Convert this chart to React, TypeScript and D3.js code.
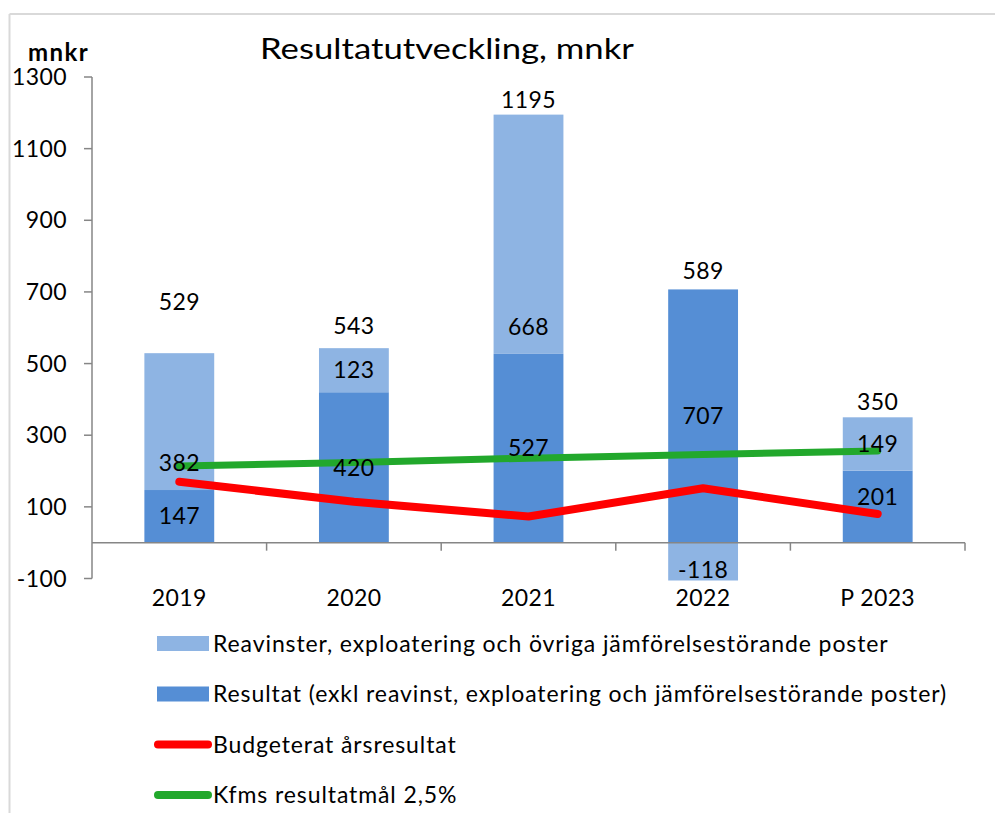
import React from "react";
import * as d3 from "d3";

const categories = ["2019", "2020", "2021", "2022", "P 2023"];
const resultat = [147, 420, 527, 707, 201];
const reavinster = [382, 123, 668, -118, 149];
const totals = [529, 543, 1195, 589, 350];
const budget = [170, 114, 73, 152, 80];
const resultatmal = [214, 224, 236, 246, 256];
const yTicks = [-100, 100, 300, 500, 700, 900, 1100, 1300];

const legendItems = [
  { label: "Reavinster, exploatering och övriga jämförelsestörande poster", kind: "rect", color: "#8eb4e3" },
  { label: "Resultat (exkl reavinst, exploatering och jämförelsestörande poster)", kind: "rect", color: "#558ed5" },
  { label: "Budgeterat årsresultat", kind: "line", color: "#ff0000" },
  { label: "Kfms resultatmål 2,5%", kind: "line", color: "#22a82c" },
];

// label nudges (pixels) — styling only
const totalDy = [-51, -22, -15, -18, -15];
const lightDy = [41, 0, 93, 6, 0];
const darkDy = [0, 0, 0, 0, -10];

const W = 995;
const H = 813;
const FONT = "Lato, 'Open Sans', sans-serif";

export default function App() {
  const left = 92;
  const right = 965;
  const band = d3.scaleBand<string>().domain(categories).range([left, right]);
  const y = d3.scaleLinear().domain([-100, 1300]).range([578.5, 77]);
  const y0 = y(0);
  const cx = (c: string) => (band(c) as number) + band.bandwidth() / 2;
  const bw = band.bandwidth() * 0.4;

  const line = d3
    .line<number>()
    .x((_, i) => cx(categories[i]))
    .y((d) => y(d));

  const clipBottom = y(-100) + 2;
  const numSize = 23;
  const numLS = 0.4;

  return (
    <div style={{ position: "absolute", left: 0, top: 0 }}>
      <svg width={W} height={H} style={{ display: "block", background: "#fff" }} fontFamily={FONT}>
        <defs>
          <clipPath id="plotclip">
            <rect x={left} y={60} width={right - left} height={clipBottom - 60} />
          </clipPath>
        </defs>
        <rect x={0} y={0} width={W} height={H} fill="#fff" />
        {/* outer border */}
        <line x1={9.5} y1={14} x2={W} y2={14} stroke="#d9d9d9" strokeWidth={2} />
        <line x1={9.5} y1={14} x2={9.5} y2={H} stroke="#d9d9d9" strokeWidth={2} />

        {/* title */}
        <text x={447} y={58.5} textAnchor="middle" fontSize={29} fill="#000" textLength={374} lengthAdjust="spacingAndGlyphs">
          Resultatutveckling, mnkr
        </text>
        <text x={28} y={61} fontSize={24} fontWeight="bold" fill="#000" letterSpacing={1.4}>
          mnkr
        </text>

        {/* bars */}
        <g clipPath="url(#plotclip)">
          {categories.map((c, i) => {
            const bx = cx(c) - bw / 2;
            const d = resultat[i];
            const l = reavinster[i];
            const darkTop = y(d);
            let lightY: number, lightH: number;
            if (l >= 0) {
              lightY = y(d + l);
              lightH = y(d) - y(d + l);
            } else {
              lightY = y0;
              lightH = y(l) - y0;
            }
            return (
              <g key={c}>
                <rect x={bx} y={darkTop} width={bw} height={y0 - darkTop} fill="#558ed5" />
                <rect x={bx} y={lightY} width={bw} height={lightH} fill="#8eb4e3" />
              </g>
            );
          })}
        </g>

        {/* y axis */}
        <line x1={left} y1={y(1300)} x2={left} y2={y(-100)} stroke="#868686" strokeWidth={1.5} />
        {yTicks.map((t) => (
          <g key={t}>
            <line x1={left - 8} x2={left} y1={y(t)} y2={y(t)} stroke="#868686" strokeWidth={1.5} />
            <text x={67} y={y(t)} dy="0.35em" textAnchor="end" fontSize={numSize} letterSpacing={numLS} fill="#000">
              {t}
            </text>
          </g>
        ))}
        {/* x axis */}
        <line x1={left} y1={y0} x2={right} y2={y0} stroke="#868686" strokeWidth={1.5} />
        {categories.map((c) => (
          <line
            key={"t" + c}
            x1={(band(c) as number) + band.bandwidth()}
            x2={(band(c) as number) + band.bandwidth()}
            y1={y0}
            y2={y0 + 8}
            stroke="#868686"
            strokeWidth={1.5}
          />
        ))}
        {categories.map((c) => (
          <text key={"x" + c} x={cx(c)} y={606} textAnchor="middle" fontSize={numSize} letterSpacing={numLS} fill="#000">
            {c}
          </text>
        ))}

        {/* lines */}
        <path d={line(budget) || ""} fill="none" stroke="#ff0000" strokeWidth={8} strokeLinecap="round" strokeLinejoin="round" />
        <path d={line(resultatmal) || ""} fill="none" stroke="#22a82c" strokeWidth={7} strokeLinecap="round" strokeLinejoin="round" />

        {/* labels */}
        {categories.map((c, i) => {
          const d = resultat[i];
          const l = reavinster[i];
          const darkC = (y0 + y(d)) / 2 + darkDy[i];
          const lightC = l >= 0 ? (y(d) + y(d + l)) / 2 + lightDy[i] : (y0 + y(l)) / 2 + lightDy[i];
          const top = l >= 0 ? y(d + l) : y(d);
          return (
            <g key={"l" + c} fontSize={numSize} letterSpacing={numLS} textAnchor="middle" fill="#000">
              <text x={cx(c)} y={darkC} dy="0.35em">{d}</text>
              <text x={cx(c)} y={lightC} dy="0.35em">{l}</text>
              <text x={cx(c)} y={top + totalDy[i]} dy="0.35em">{totals[i]}</text>
            </g>
          );
        })}

        {/* legend */}
        {legendItems.map((it, i) => {
          const ly = 643.5 + i * 50.5;
          return (
            <g key={it.label}>
              {it.kind === "rect" ? (
                <rect x={157} y={ly - 7.5} width={52} height={15} fill={it.color} />
              ) : (
                <line x1={158} x2={208} y1={ly} y2={ly} stroke={it.color} strokeWidth={8} strokeLinecap="round" />
              )}
              <text x={213} y={ly} dy="0.35em" fontSize={23} letterSpacing={0.9} fill="#000">
                {it.label}
              </text>
            </g>
          );
        })}
      </svg>
    </div>
  );
}
